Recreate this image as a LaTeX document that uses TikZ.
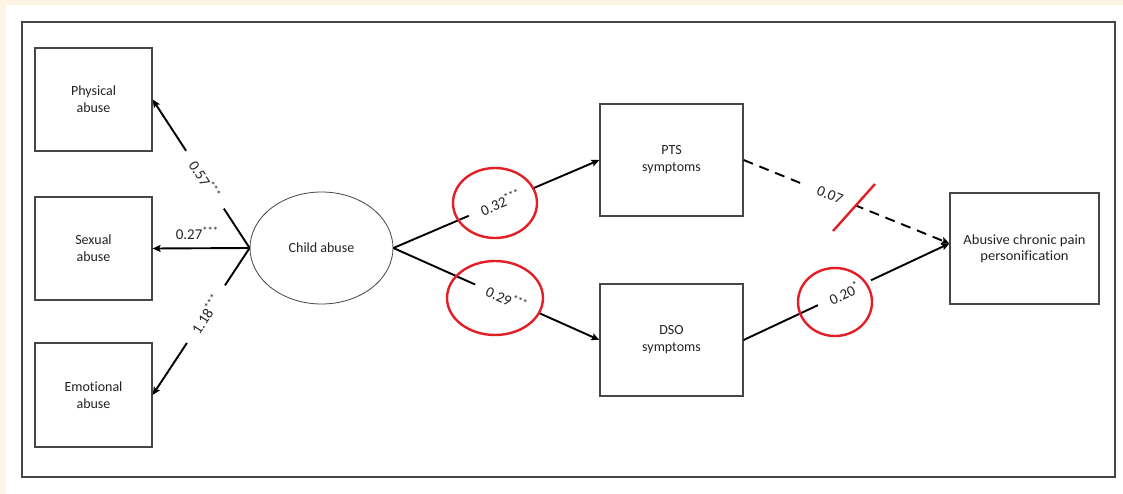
\documentclass[tikz,border=0pt]{standalone}
\usepackage{fontspec}
\setmainfont{Carlito}[Ligatures=NoCommon]
\newfontfamily\widefont{Carlito}[Ligatures=NoCommon, FakeStretch=1.04]
\usetikzlibrary{arrows.meta,shapes.geometric}
\definecolor{cream}{RGB}{254,244,228}
\definecolor{ink}{RGB}{35,35,35}
\definecolor{edge}{RGB}{70,70,70}
\definecolor{markred}{RGB}{228,30,38}
\begin{document}
\begin{tikzpicture}[x=1pt,y=-1pt,
  txt/.style={font=\fontsize{14}{17}\selectfont, text=ink, align=center},
  varbox/.style={txt, draw=edge, line width=1.2pt, inner sep=0pt},
  latent/.style={txt, ellipse, draw=edge, line width=0.8pt, inner sep=0pt,
                 minimum width=143pt, minimum height=112pt},
  path/.style={line width=1.9pt, -{Stealth[length=8pt,width=7pt,inset=1.5pt]}},
  nonsig/.style={dash pattern=on 10pt off 7pt},
  coef/.style={font=\fontsize{15}{17}\selectfont, text=ink, fill=white, sloped,
               inner xsep=13pt, inner ysep=1pt},
  redmark/.style={draw=markred, line width=2.4pt}
]
% page background and frame
\fill[cream] (0,0) rectangle (1123,494);
\fill[white] (6,5) rectangle (1123,494);
\draw[edge, line width=1.8pt] (22,22) rectangle (1115,477);

% observed indicators
\node[varbox, minimum width=117pt, minimum height=103pt] (phys) at (93.5,99.5) {Physical\\abuse};
\node[varbox, minimum width=117pt, minimum height=103pt] (sex)  at (93.5,248.5) {Sexual\\abuse};
\node[varbox, minimum width=117pt, minimum height=104pt] (emo)  at (93.5,395) {Emotional\\abuse};

% latent factor
\node[latent] (child) at (321.5,248) {Child abuse};

% mediators and outcome
\node[varbox, minimum width=143pt, minimum height=112pt] (pts) at (671.5,160) {PTS\\symptoms};
\node[varbox, minimum width=143pt, minimum height=112pt] (dso) at (671.5,340) {DSO\\symptoms};
\node[varbox, minimum width=149pt, minimum height=111pt, font=\widefont\fontsize{14}{16}\selectfont]
  (abus) at (1024.5,248.5) {Abusive chronic pain\\personification};
\coordinate (tip) at ([yshift=5pt]abus.west);

% loadings
\draw[path] (child.west) -- node[coef, pos=0.46] {0.57\textsuperscript{***}} (phys.east);
\draw[path] (child.west) -- node[txt, font=\fontsize{15}{17}\selectfont, pos=0.54, above=4pt] {0.27\textsuperscript{***}} (sex.east);
\draw[path] (child.west) -- node[coef, pos=0.45] {1.18\textsuperscript{***}} (emo.east);

% structural paths
\draw[path] (child.east) -- node[coef, pos=0.52] {0.32\textsuperscript{***}} (pts.west);
\draw[path] (child.east) -- node[coef, pos=0.55] {0.29\textsuperscript{***}} (dso.west);
\draw[path, nonsig] (pts.east) -- node[coef, pos=0.42, inner xsep=14pt] {0.07} (tip);
\draw[path] (dso.east) -- node[coef, pos=0.49] {0.20\textsuperscript{*}} (tip);

% red annotations
\draw[redmark] (495,203) ellipse [x radius=42pt, y radius=35pt];
\draw[redmark] (495,298) ellipse [x radius=48pt, y radius=37pt];
\draw[redmark] (835,302) ellipse [x radius=37pt, y radius=34pt];
\draw[redmark] (833,231) -- (875,184);
\end{tikzpicture}
\end{document}
